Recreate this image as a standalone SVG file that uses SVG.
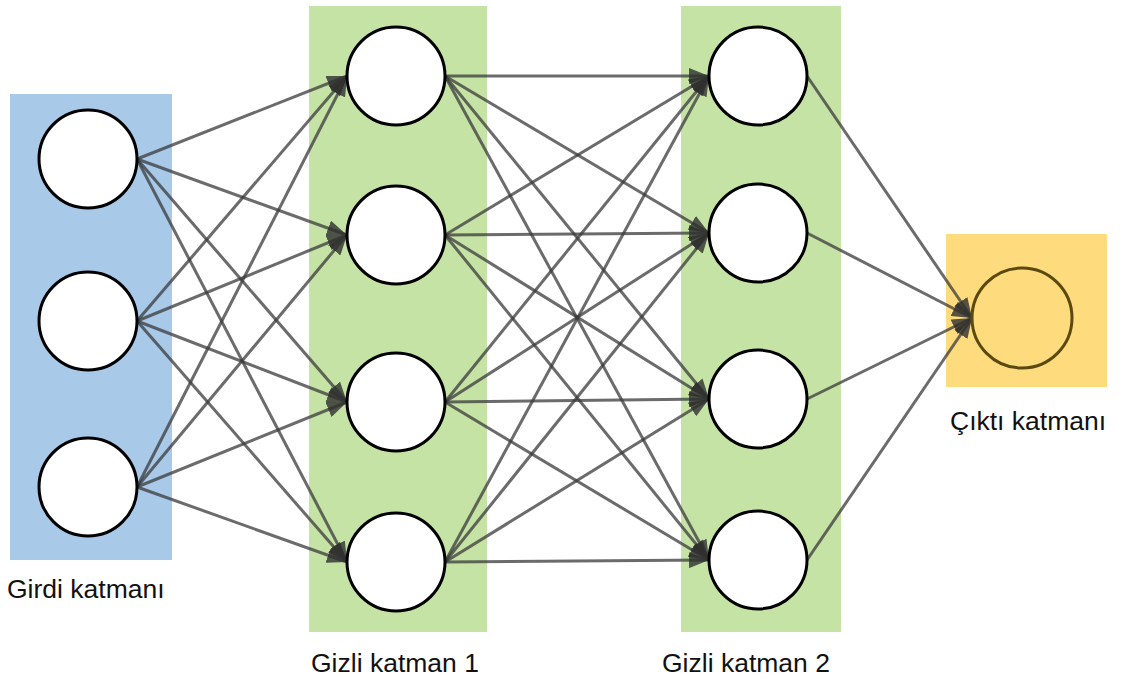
<svg xmlns="http://www.w3.org/2000/svg" width="1124" height="679" viewBox="0 0 1124 679">
  <style>
    .node { fill: #ffffff; stroke: #000000; stroke-width: 3; }
    .out { fill: none; stroke: #5a4a10; stroke-width: 3; }
    .edge { stroke: #3a3a3a; stroke-opacity: 0.75; stroke-width: 3; fill: none; marker-end: url(#arrow); }
    .label { font-family: "Liberation Sans", Arial, sans-serif; font-size: 26.5px; fill: #111111; }
  </style>
  <defs>
    <marker id="arrow" markerUnits="userSpaceOnUse" markerWidth="20" markerHeight="16" refX="20" refY="8" orient="auto">
      <path d="M0,0 L20,8 L0,16 Z" fill="#2e2e2e" fill-opacity="0.8"/>
    </marker>
  </defs>

  <rect width="1124" height="679" fill="#ffffff"/>

  <!-- layer backgrounds -->
  <g id="layer-bg">
    <rect x="10" y="94" width="162" height="466" fill="#a9c9e9"/>
    <rect x="309" y="6" width="178" height="626" fill="#c6e3a6"/>
    <rect x="681" y="6" width="160" height="626" fill="#c6e3a6"/>
    <rect x="946" y="234" width="161" height="153" fill="#fedb7d"/>
  </g>

  <!-- connectors -->
  <g id="connectors">
    <!-- input -> hidden 1 -->
    <line class="edge" x1="137" y1="159" x2="347" y2="76"/>
    <line class="edge" x1="137" y1="159" x2="347" y2="235"/>
    <line class="edge" x1="137" y1="159" x2="347" y2="402"/>
    <line class="edge" x1="137" y1="159" x2="347" y2="562"/>
    <line class="edge" x1="137" y1="321" x2="347" y2="76"/>
    <line class="edge" x1="137" y1="321" x2="347" y2="235"/>
    <line class="edge" x1="137" y1="321" x2="347" y2="402"/>
    <line class="edge" x1="137" y1="321" x2="347" y2="562"/>
    <line class="edge" x1="137" y1="487" x2="347" y2="76"/>
    <line class="edge" x1="137" y1="487" x2="347" y2="235"/>
    <line class="edge" x1="137" y1="487" x2="347" y2="402"/>
    <line class="edge" x1="137" y1="487" x2="347" y2="562"/>
    <!-- hidden 1 -> hidden 2 -->
    <line class="edge" x1="445" y1="76" x2="709" y2="76"/>
    <line class="edge" x1="445" y1="76" x2="709" y2="233"/>
    <line class="edge" x1="445" y1="76" x2="709" y2="399"/>
    <line class="edge" x1="445" y1="76" x2="709" y2="560"/>
    <line class="edge" x1="445" y1="235" x2="709" y2="76"/>
    <line class="edge" x1="445" y1="235" x2="709" y2="233"/>
    <line class="edge" x1="445" y1="235" x2="709" y2="399"/>
    <line class="edge" x1="445" y1="235" x2="709" y2="560"/>
    <line class="edge" x1="445" y1="402" x2="709" y2="76"/>
    <line class="edge" x1="445" y1="402" x2="709" y2="233"/>
    <line class="edge" x1="445" y1="402" x2="709" y2="399"/>
    <line class="edge" x1="445" y1="402" x2="709" y2="560"/>
    <line class="edge" x1="445" y1="562" x2="709" y2="76"/>
    <line class="edge" x1="445" y1="562" x2="709" y2="233"/>
    <line class="edge" x1="445" y1="562" x2="709" y2="399"/>
    <line class="edge" x1="445" y1="562" x2="709" y2="560"/>
    <!-- hidden 2 -> output -->
    <line class="edge" x1="807" y1="76" x2="972" y2="318"/>
    <line class="edge" x1="807" y1="233" x2="972" y2="318"/>
    <line class="edge" x1="807" y1="399" x2="972" y2="318"/>
    <line class="edge" x1="807" y1="560" x2="972" y2="318"/>
  </g>

  <!-- input layer -->
  <g id="input-1"><circle class="node" cx="88" cy="159" r="49"/></g>
  <g id="input-2"><circle class="node" cx="88" cy="321" r="49"/></g>
  <g id="input-3"><circle class="node" cx="88" cy="487" r="49"/></g>

  <!-- hidden layer 1 -->
  <g id="h1-1"><circle class="node" cx="396" cy="76" r="49"/></g>
  <g id="h1-2"><circle class="node" cx="396" cy="235" r="49"/></g>
  <g id="h1-3"><circle class="node" cx="396" cy="402" r="49"/></g>
  <g id="h1-4"><circle class="node" cx="396" cy="562" r="49"/></g>

  <!-- hidden layer 2 -->
  <g id="h2-1"><circle class="node" cx="758" cy="76" r="49"/></g>
  <g id="h2-2"><circle class="node" cx="758" cy="233" r="49"/></g>
  <g id="h2-3"><circle class="node" cx="758" cy="399" r="49"/></g>
  <g id="h2-4"><circle class="node" cx="758" cy="560" r="49"/></g>

  <!-- output layer -->
  <g id="output-1"><circle class="out" cx="1022" cy="318" r="50"/></g>

  <!-- layer labels -->
  <g id="labels">
    <text class="label" x="7" y="598">Girdi katmanı</text>
    <text class="label" x="311" y="672">Gizli katman 1</text>
    <text class="label" x="662" y="672">Gizli katman 2</text>
    <text class="label" x="950" y="430">Çıktı katmanı</text>
  </g>
</svg>
